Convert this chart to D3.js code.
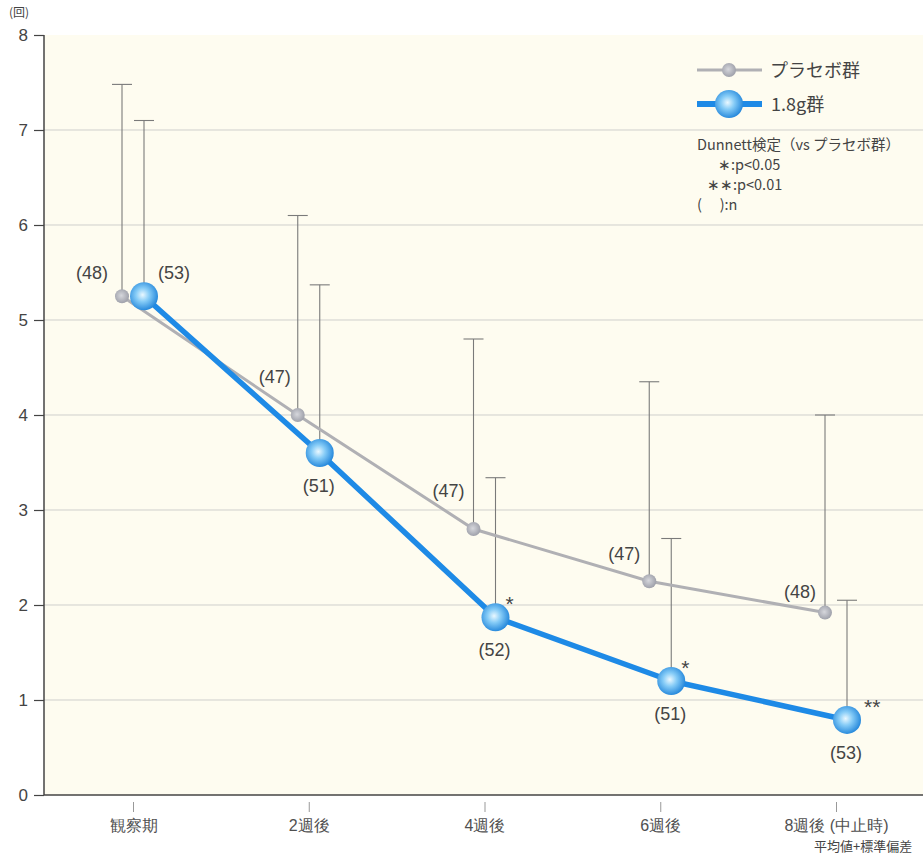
<!DOCTYPE html>
<html><head><meta charset="utf-8">
<script src="https://cdn.jsdelivr.net/npm/d3@7"></script>
<style>body{margin:0;background:#fff;} svg{display:block;font-family:"Noto Sans CJK JP","Noto Sans",sans-serif;}</style>
</head><body>
<svg id="c" width="923" height="855"></svg>
<script>
const categories = ["観察期","2週後","4週後","6週後","8週後 (中止時)"];
const placeboMean = [5.25, 4.0, 2.8, 2.25, 1.92];
const placeboSD   = [2.23, 2.1, 2.0, 2.1, 2.08];
const placeboN    = [48, 47, 47, 47, 48];
const doseMean    = [5.25, 3.6, 1.87, 1.2, 0.79];
const doseSD      = [1.85, 1.77, 1.47, 1.5, 1.26];
const doseN       = [53, 51, 52, 51, 53];
const doseSig     = ["", "", "*", "*", "**"];
const yTicks = [0,1,2,3,4,5,6,7,8];

(function(){
const svg = d3.select("#c");
const pL = 44, pR = 923, pT = 35, pB = 795;
const x = d3.scalePoint().domain(categories).range([133, 836]);
const y = d3.scaleLinear().domain([0, 8]).range([pB, pT]);
const off = 11;

const defs = svg.append("defs");
const g1 = defs.append("radialGradient").attr("id","bg").attr("cx","45%").attr("cy","45%").attr("r","60%");
g1.append("stop").attr("offset","0%").attr("stop-color","#eaf8ff");
g1.append("stop").attr("offset","40%").attr("stop-color","#86ccf7");
g1.append("stop").attr("offset","100%").attr("stop-color","#1a80d8");
const g2 = defs.append("radialGradient").attr("id","gg").attr("cx","45%").attr("cy","45%").attr("r","60%");
g2.append("stop").attr("offset","0%").attr("stop-color","#d6d7dc");
g2.append("stop").attr("offset","100%").attr("stop-color","#9a9ca6");

svg.append("rect").attr("x",pL).attr("y",pT).attr("width",pR-pL).attr("height",pB-pT).attr("fill","#fefcf0");

svg.append("g").selectAll("line").data(yTicks.filter(d=>d>0 && d<8)).join("line")
  .attr("x1",pL).attr("x2",pR).attr("y1",d=>y(d)).attr("y2",d=>y(d))
  .attr("stroke","#cfcfcc").attr("stroke-width",1);

const ya = svg.append("g").attr("transform",`translate(${pL},0)`)
  .call(d3.axisLeft(y).tickValues(yTicks).tickSize(10).tickPadding(6).tickFormat(d3.format("d")));
ya.select(".domain").attr("stroke","#444").attr("stroke-width",1.5).attr("d",`M0,${pB}V${pT}`);
ya.selectAll(".tick line").attr("stroke","#444").attr("stroke-width",1.2);
ya.selectAll("text").attr("font-size",17).attr("fill","#444").attr("font-family","Liberation Sans, Arial, sans-serif");

svg.append("line").attr("x1",pL).attr("x2",pR).attr("y1",pB).attr("y2",pB).attr("stroke","#444").attr("stroke-width",1.5);
const xa = svg.append("g").attr("transform",`translate(0,${pB+7})`)
  .call(d3.axisBottom(x).tickSize(10).tickPadding(8));
xa.select(".domain").remove();
xa.selectAll(".tick line").attr("stroke","#999");
xa.selectAll("text").attr("font-size",16).attr("fill","#505050");

svg.append("text").attr("x",9).attr("y",17).attr("font-size",12).attr("fill","#444").text("(回)");
svg.append("text").attr("x",814).attr("y",851).attr("font-size",13).attr("fill","#444").text("平均値+標準偏差");

function errBars(mean, sd, dx){
  const g = svg.append("g");
  categories.forEach((c,i)=>{
    const cx = x(c)+dx, y0 = y(mean[i]), y1 = y(mean[i]+sd[i]);
    g.append("line").attr("x1",cx).attr("x2",cx).attr("y1",y0).attr("y2",y1).attr("stroke","#7a7a7a").attr("stroke-width",1.1);
    g.append("line").attr("x1",cx-10).attr("x2",cx+10).attr("y1",y1).attr("y2",y1).attr("stroke","#7a7a7a").attr("stroke-width",1.1);
  });
}
errBars(placeboMean, placeboSD, -off);
errBars(doseMean, doseSD, off);

const line = d3.line();
svg.append("path").attr("d", line(categories.map((c,i)=>[x(c)-off, y(placeboMean[i])])))
  .attr("fill","none").attr("stroke","#b0b0b4").attr("stroke-width",3);
svg.append("g").selectAll("circle").data(placeboMean).join("circle")
  .attr("cx",(d,i)=>x(categories[i])-off).attr("cy",d=>y(d)).attr("r",7).attr("fill","url(#gg)");

svg.append("path").attr("d", line(categories.map((c,i)=>[x(c)+off, y(doseMean[i])])))
  .attr("fill","none").attr("stroke","#1e8ae6").attr("stroke-width",5.5).attr("stroke-linejoin","round");
svg.append("g").selectAll("circle").data(doseMean).join("circle")
  .attr("cx",(d,i)=>x(categories[i])+off).attr("cy",d=>y(d)).attr("r",14).attr("fill","url(#bg)");

const lab = svg.append("g").attr("font-size",18).attr("fill","#444").attr("font-family","Liberation Sans, Arial, sans-serif");
const pOff = [[-30,-17],[-23,-32],[-25,-32],[-25,-21],[-25,-15]];
placeboN.forEach((n,i)=>{
  const cx = x(categories[i])-off;
  lab.append("text").attr("x",cx+pOff[i][0]).attr("y",y(placeboMean[i])+pOff[i][1]).attr("text-anchor","middle").text(`(${n})`);
});
doseN.forEach((n,i)=>{
  const cx = x(categories[i])+off;
  if(i===0) lab.append("text").attr("x",cx+30).attr("y",y(doseMean[i])-17).attr("text-anchor","middle").text(`(${n})`);
  else lab.append("text").attr("x",cx-1).attr("y",y(doseMean[i])+39).attr("text-anchor","middle").text(`(${n})`);
});
doseSig.forEach((s,i)=>{
  if(!s) return;
  const cx = x(categories[i])+off;
  lab.append("text").attr("x",cx+(s.length>1?17:10)).attr("y",y(doseMean[i])-6).attr("font-size",21).text(s);
});

const lg = svg.append("g");
lg.append("line").attr("x1",697).attr("x2",762).attr("y1",70).attr("y2",70).attr("stroke","#b0b0b4").attr("stroke-width",3);
lg.append("circle").attr("cx",729).attr("cy",70).attr("r",7).attr("fill","url(#gg)");
lg.append("text").attr("x",770).attr("y",77).attr("font-size",18).attr("fill","#444").text("プラセボ群");
lg.append("line").attr("x1",697).attr("x2",762).attr("y1",104).attr("y2",104).attr("stroke","#1e8ae6").attr("stroke-width",6);
lg.append("circle").attr("cx",729).attr("cy",104).attr("r",14).attr("fill","url(#bg)");
lg.append("text").attr("x",771).attr("y",111).attr("font-size",18).attr("fill","#444").text("1.8g群");
const lt = lg.append("g").attr("font-size",14.5).attr("fill","#444");
lt.append("text").attr("x",697).attr("y",150).text("Dunnett検定（vs プラセボ群）");
lt.append("text").attr("x",718).attr("y",170).text("∗:p<0.05");
lt.append("text").attr("x",707).attr("y",190).text("∗∗:p<0.01");
lt.append("text").attr("x",697).attr("y",210).text("(　 ):n");
})();
</script>
</body></html>
